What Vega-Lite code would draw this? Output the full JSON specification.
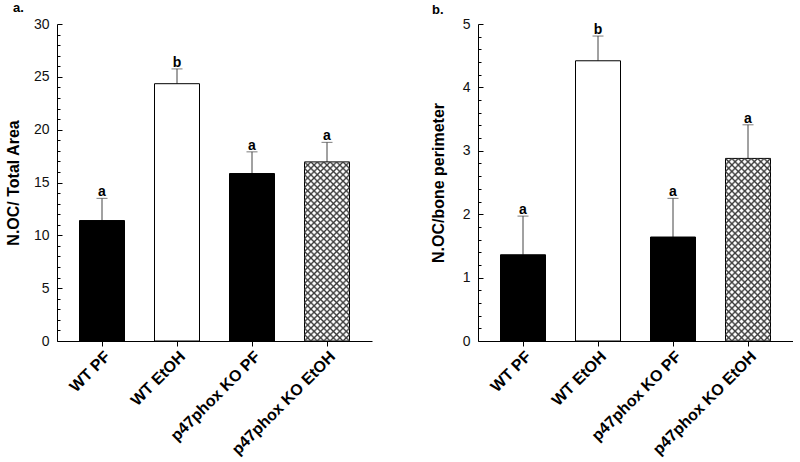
{
  "$schema": "https://vega.github.io/schema/vega-lite/v6.json",
  "padding": {"left": 5, "top": 2, "right": 0, "bottom": 0},
  "background": "white",
  "spacing": 58,
  "config": {
    "view": {"stroke": null},
    "font": "Liberation Sans",
    "axis": {"domainColor": "#000", "tickColor": "#000", "labelColor": "#111", "titleColor": "#000", "labelFont": "Liberation Sans", "titleFont": "Liberation Sans", "grid": false},
    "axisY": {"labelOverlap": false, "labelFontSize": 14, "titleFontSize": 16, "titleFontWeight": "bold", "labelPadding": 13, "tickSize": -5},
    "axisX": {"labelAngle": -45, "labelFontSize": 16, "labelFontWeight": "bold", "labelColor": "#000", "tickSize": 5, "labelPadding": 2},
    "title": {"font": "Liberation Sans", "fontSize": 13, "fontWeight": "bold", "color": "#000"}
  },
  "datasets": {
    "a": [
      {"group": "WT PF", "mean": 11.4, "err": 13.5, "letter": "a"},
      {"group": "WT EtOH", "mean": 24.35, "err": 25.75, "letter": "b"},
      {"group": "p47phox KO PF", "mean": 15.85, "err": 17.9, "letter": "a"},
      {"group": "p47phox KO EtOH", "mean": 16.95, "err": 18.8, "letter": "a"}
    ],
    "b": [
      {"group": "WT PF", "mean": 1.36, "err": 1.97, "letter": "a"},
      {"group": "WT EtOH", "mean": 4.42, "err": 4.81, "letter": "b"},
      {"group": "p47phox KO PF", "mean": 1.64, "err": 2.25, "letter": "a"},
      {"group": "p47phox KO EtOH", "mean": 2.88, "err": 3.41, "letter": "a"}
    ]
  },
  "hconcat": [
    {
      "data": {"name": "a"},
      "width": 315,
      "height": 317,
      "title": {"text": "a.", "anchor": "start", "frame": "group", "dx": -44, "offset": 2},
      "encoding": {
        "x": {"field": "group", "type": "nominal", "sort": null, "title": null,
          "scale": {"paddingInner": 0.4, "paddingOuter": 0.3}}
      },
      "resolve": {"scale": {"y": "independent"}, "axis": {"y": "independent"}},
      "layer": [
        {"mark": {"type": "rule", "opacity": 0},
         "encoding": {"y": {"field": "mean", "type": "quantitative",
           "scale": {"domain": [0, 30], "nice": false, "zero": true},
           "axis": {"orient": "left", "values": [1,2,3,4,6,7,8,9,11,12,13,14,16,17,18,19,21,22,23,24,26,27,28,29], "labels": false, "domain": false, "tickSize": -3, "title": null, "minExtent": 0, "maxExtent": 0}}}},
        {"layer": [
        {"mark": {"type": "rule", "color": "#444", "strokeWidth": 1},
         "encoding": {
           "y": {"field": "mean", "type": "quantitative", "title": "N.OC/ Total Area",
             "scale": {"domain": [0, 30], "nice": false, "zero": true},
             "axis": {"orient": "left", "values": [0, 5, 10, 15, 20, 25, 30], "titlePadding": 12}},
           "y2": {"field": "err"}}},
        {"mark": {"type": "tick", "color": "#444", "size": 11, "thickness": 1},
         "encoding": {"y": {"field": "err", "type": "quantitative", "title": "N.OC/ Total Area"}}},
        {"mark": {"type": "bar", "stroke": "#000", "strokeWidth": 1},
         "encoding": {
           "y": {"field": "mean", "type": "quantitative", "title": "N.OC/ Total Area"},
           "fill": {"field": "group", "type": "nominal", "legend": null,
             "scale": {"domain": ["WT PF", "WT EtOH", "p47phox KO PF", "p47phox KO EtOH"], "range": ["#000000", "#ffffff", "#000000", "#ffffff"]}}}},
        {"transform": [{"filter": "datum.group === 'p47phox KO EtOH'"}],
         "mark": {"type": "bar", "strokeWidth": 0, "fill": {"gradient": "linear", "x1": 0, "y1": 0, "x2": 0.294, "y2": 1.176, "stops": [
{"offset":0,"color":"#3a3a3a"},{"offset":0.00857,"color":"rgba(58,58,58,0)"},{"offset":0.02,"color":"rgba(58,58,58,0)"},
{"offset":0.02857,"color":"#3a3a3a"},{"offset":0.03714,"color":"rgba(58,58,58,0)"},{"offset":0.04857,"color":"rgba(58,58,58,0)"},
{"offset":0.05714,"color":"#3a3a3a"},{"offset":0.06571,"color":"rgba(58,58,58,0)"},{"offset":0.07714,"color":"rgba(58,58,58,0)"},
{"offset":0.08571,"color":"#3a3a3a"},{"offset":0.09429,"color":"rgba(58,58,58,0)"},{"offset":0.10571,"color":"rgba(58,58,58,0)"},
{"offset":0.11429,"color":"#3a3a3a"},{"offset":0.12286,"color":"rgba(58,58,58,0)"},{"offset":0.13429,"color":"rgba(58,58,58,0)"},
{"offset":0.14286,"color":"#3a3a3a"},{"offset":0.15143,"color":"rgba(58,58,58,0)"},{"offset":0.16286,"color":"rgba(58,58,58,0)"},
{"offset":0.17143,"color":"#3a3a3a"},{"offset":0.18,"color":"rgba(58,58,58,0)"},{"offset":0.19143,"color":"rgba(58,58,58,0)"},
{"offset":0.2,"color":"#3a3a3a"},{"offset":0.20857,"color":"rgba(58,58,58,0)"},{"offset":0.22,"color":"rgba(58,58,58,0)"},
{"offset":0.22857,"color":"#3a3a3a"},{"offset":0.23714,"color":"rgba(58,58,58,0)"},{"offset":0.24857,"color":"rgba(58,58,58,0)"},
{"offset":0.25714,"color":"#3a3a3a"},{"offset":0.26571,"color":"rgba(58,58,58,0)"},{"offset":0.27714,"color":"rgba(58,58,58,0)"},
{"offset":0.28571,"color":"#3a3a3a"},{"offset":0.29429,"color":"rgba(58,58,58,0)"},{"offset":0.30571,"color":"rgba(58,58,58,0)"},
{"offset":0.31429,"color":"#3a3a3a"},{"offset":0.32286,"color":"rgba(58,58,58,0)"},{"offset":0.33429,"color":"rgba(58,58,58,0)"},
{"offset":0.34286,"color":"#3a3a3a"},{"offset":0.35143,"color":"rgba(58,58,58,0)"},{"offset":0.36286,"color":"rgba(58,58,58,0)"},
{"offset":0.37143,"color":"#3a3a3a"},{"offset":0.38,"color":"rgba(58,58,58,0)"},{"offset":0.39143,"color":"rgba(58,58,58,0)"},
{"offset":0.4,"color":"#3a3a3a"},{"offset":0.40857,"color":"rgba(58,58,58,0)"},{"offset":0.42,"color":"rgba(58,58,58,0)"},
{"offset":0.42857,"color":"#3a3a3a"},{"offset":0.43714,"color":"rgba(58,58,58,0)"},{"offset":0.44857,"color":"rgba(58,58,58,0)"},
{"offset":0.45714,"color":"#3a3a3a"},{"offset":0.46571,"color":"rgba(58,58,58,0)"},{"offset":0.47714,"color":"rgba(58,58,58,0)"},
{"offset":0.48571,"color":"#3a3a3a"},{"offset":0.49429,"color":"rgba(58,58,58,0)"},{"offset":0.50571,"color":"rgba(58,58,58,0)"},
{"offset":0.51429,"color":"#3a3a3a"},{"offset":0.52286,"color":"rgba(58,58,58,0)"},{"offset":0.53429,"color":"rgba(58,58,58,0)"},
{"offset":0.54286,"color":"#3a3a3a"},{"offset":0.55143,"color":"rgba(58,58,58,0)"},{"offset":0.56286,"color":"rgba(58,58,58,0)"},
{"offset":0.57143,"color":"#3a3a3a"},{"offset":0.58,"color":"rgba(58,58,58,0)"},{"offset":0.59143,"color":"rgba(58,58,58,0)"},
{"offset":0.6,"color":"#3a3a3a"},{"offset":0.60857,"color":"rgba(58,58,58,0)"},{"offset":0.62,"color":"rgba(58,58,58,0)"},
{"offset":0.62857,"color":"#3a3a3a"},{"offset":0.63714,"color":"rgba(58,58,58,0)"},{"offset":0.64857,"color":"rgba(58,58,58,0)"},
{"offset":0.65714,"color":"#3a3a3a"},{"offset":0.66571,"color":"rgba(58,58,58,0)"},{"offset":0.67714,"color":"rgba(58,58,58,0)"},
{"offset":0.68571,"color":"#3a3a3a"},{"offset":0.69429,"color":"rgba(58,58,58,0)"},{"offset":0.70571,"color":"rgba(58,58,58,0)"},
{"offset":0.71429,"color":"#3a3a3a"},{"offset":0.72286,"color":"rgba(58,58,58,0)"},{"offset":0.73429,"color":"rgba(58,58,58,0)"},
{"offset":0.74286,"color":"#3a3a3a"},{"offset":0.75143,"color":"rgba(58,58,58,0)"},{"offset":0.76286,"color":"rgba(58,58,58,0)"},
{"offset":0.77143,"color":"#3a3a3a"},{"offset":0.78,"color":"rgba(58,58,58,0)"},{"offset":0.79143,"color":"rgba(58,58,58,0)"},
{"offset":0.8,"color":"#3a3a3a"},{"offset":0.80857,"color":"rgba(58,58,58,0)"},{"offset":0.82,"color":"rgba(58,58,58,0)"},
{"offset":0.82857,"color":"#3a3a3a"},{"offset":0.83714,"color":"rgba(58,58,58,0)"},{"offset":0.84857,"color":"rgba(58,58,58,0)"},
{"offset":0.85714,"color":"#3a3a3a"},{"offset":0.86571,"color":"rgba(58,58,58,0)"},{"offset":0.87714,"color":"rgba(58,58,58,0)"},
{"offset":0.88571,"color":"#3a3a3a"},{"offset":0.89429,"color":"rgba(58,58,58,0)"},{"offset":0.90571,"color":"rgba(58,58,58,0)"},
{"offset":0.91429,"color":"#3a3a3a"},{"offset":0.92286,"color":"rgba(58,58,58,0)"},{"offset":0.93429,"color":"rgba(58,58,58,0)"},
{"offset":0.94286,"color":"#3a3a3a"},{"offset":0.95143,"color":"rgba(58,58,58,0)"},{"offset":0.96286,"color":"rgba(58,58,58,0)"},
{"offset":0.97143,"color":"#3a3a3a"},{"offset":0.98,"color":"rgba(58,58,58,0)"},{"offset":0.99143,"color":"rgba(58,58,58,0)"},
{"offset":1,"color":"#3a3a3a"}]}},
         "encoding": {"y": {"field": "mean", "type": "quantitative", "title": "N.OC/ Total Area"}}},
        {"transform": [{"filter": "datum.group === 'p47phox KO EtOH'"}],
         "mark": {"type": "bar", "strokeWidth": 0, "fill": {"gradient": "linear", "x1": 0, "y1": 1, "x2": 0.294, "y2": -0.176, "stops": [
{"offset":0,"color":"#3a3a3a"},{"offset":0.00857,"color":"rgba(58,58,58,0)"},{"offset":0.02,"color":"rgba(58,58,58,0)"},
{"offset":0.02857,"color":"#3a3a3a"},{"offset":0.03714,"color":"rgba(58,58,58,0)"},{"offset":0.04857,"color":"rgba(58,58,58,0)"},
{"offset":0.05714,"color":"#3a3a3a"},{"offset":0.06571,"color":"rgba(58,58,58,0)"},{"offset":0.07714,"color":"rgba(58,58,58,0)"},
{"offset":0.08571,"color":"#3a3a3a"},{"offset":0.09429,"color":"rgba(58,58,58,0)"},{"offset":0.10571,"color":"rgba(58,58,58,0)"},
{"offset":0.11429,"color":"#3a3a3a"},{"offset":0.12286,"color":"rgba(58,58,58,0)"},{"offset":0.13429,"color":"rgba(58,58,58,0)"},
{"offset":0.14286,"color":"#3a3a3a"},{"offset":0.15143,"color":"rgba(58,58,58,0)"},{"offset":0.16286,"color":"rgba(58,58,58,0)"},
{"offset":0.17143,"color":"#3a3a3a"},{"offset":0.18,"color":"rgba(58,58,58,0)"},{"offset":0.19143,"color":"rgba(58,58,58,0)"},
{"offset":0.2,"color":"#3a3a3a"},{"offset":0.20857,"color":"rgba(58,58,58,0)"},{"offset":0.22,"color":"rgba(58,58,58,0)"},
{"offset":0.22857,"color":"#3a3a3a"},{"offset":0.23714,"color":"rgba(58,58,58,0)"},{"offset":0.24857,"color":"rgba(58,58,58,0)"},
{"offset":0.25714,"color":"#3a3a3a"},{"offset":0.26571,"color":"rgba(58,58,58,0)"},{"offset":0.27714,"color":"rgba(58,58,58,0)"},
{"offset":0.28571,"color":"#3a3a3a"},{"offset":0.29429,"color":"rgba(58,58,58,0)"},{"offset":0.30571,"color":"rgba(58,58,58,0)"},
{"offset":0.31429,"color":"#3a3a3a"},{"offset":0.32286,"color":"rgba(58,58,58,0)"},{"offset":0.33429,"color":"rgba(58,58,58,0)"},
{"offset":0.34286,"color":"#3a3a3a"},{"offset":0.35143,"color":"rgba(58,58,58,0)"},{"offset":0.36286,"color":"rgba(58,58,58,0)"},
{"offset":0.37143,"color":"#3a3a3a"},{"offset":0.38,"color":"rgba(58,58,58,0)"},{"offset":0.39143,"color":"rgba(58,58,58,0)"},
{"offset":0.4,"color":"#3a3a3a"},{"offset":0.40857,"color":"rgba(58,58,58,0)"},{"offset":0.42,"color":"rgba(58,58,58,0)"},
{"offset":0.42857,"color":"#3a3a3a"},{"offset":0.43714,"color":"rgba(58,58,58,0)"},{"offset":0.44857,"color":"rgba(58,58,58,0)"},
{"offset":0.45714,"color":"#3a3a3a"},{"offset":0.46571,"color":"rgba(58,58,58,0)"},{"offset":0.47714,"color":"rgba(58,58,58,0)"},
{"offset":0.48571,"color":"#3a3a3a"},{"offset":0.49429,"color":"rgba(58,58,58,0)"},{"offset":0.50571,"color":"rgba(58,58,58,0)"},
{"offset":0.51429,"color":"#3a3a3a"},{"offset":0.52286,"color":"rgba(58,58,58,0)"},{"offset":0.53429,"color":"rgba(58,58,58,0)"},
{"offset":0.54286,"color":"#3a3a3a"},{"offset":0.55143,"color":"rgba(58,58,58,0)"},{"offset":0.56286,"color":"rgba(58,58,58,0)"},
{"offset":0.57143,"color":"#3a3a3a"},{"offset":0.58,"color":"rgba(58,58,58,0)"},{"offset":0.59143,"color":"rgba(58,58,58,0)"},
{"offset":0.6,"color":"#3a3a3a"},{"offset":0.60857,"color":"rgba(58,58,58,0)"},{"offset":0.62,"color":"rgba(58,58,58,0)"},
{"offset":0.62857,"color":"#3a3a3a"},{"offset":0.63714,"color":"rgba(58,58,58,0)"},{"offset":0.64857,"color":"rgba(58,58,58,0)"},
{"offset":0.65714,"color":"#3a3a3a"},{"offset":0.66571,"color":"rgba(58,58,58,0)"},{"offset":0.67714,"color":"rgba(58,58,58,0)"},
{"offset":0.68571,"color":"#3a3a3a"},{"offset":0.69429,"color":"rgba(58,58,58,0)"},{"offset":0.70571,"color":"rgba(58,58,58,0)"},
{"offset":0.71429,"color":"#3a3a3a"},{"offset":0.72286,"color":"rgba(58,58,58,0)"},{"offset":0.73429,"color":"rgba(58,58,58,0)"},
{"offset":0.74286,"color":"#3a3a3a"},{"offset":0.75143,"color":"rgba(58,58,58,0)"},{"offset":0.76286,"color":"rgba(58,58,58,0)"},
{"offset":0.77143,"color":"#3a3a3a"},{"offset":0.78,"color":"rgba(58,58,58,0)"},{"offset":0.79143,"color":"rgba(58,58,58,0)"},
{"offset":0.8,"color":"#3a3a3a"},{"offset":0.80857,"color":"rgba(58,58,58,0)"},{"offset":0.82,"color":"rgba(58,58,58,0)"},
{"offset":0.82857,"color":"#3a3a3a"},{"offset":0.83714,"color":"rgba(58,58,58,0)"},{"offset":0.84857,"color":"rgba(58,58,58,0)"},
{"offset":0.85714,"color":"#3a3a3a"},{"offset":0.86571,"color":"rgba(58,58,58,0)"},{"offset":0.87714,"color":"rgba(58,58,58,0)"},
{"offset":0.88571,"color":"#3a3a3a"},{"offset":0.89429,"color":"rgba(58,58,58,0)"},{"offset":0.90571,"color":"rgba(58,58,58,0)"},
{"offset":0.91429,"color":"#3a3a3a"},{"offset":0.92286,"color":"rgba(58,58,58,0)"},{"offset":0.93429,"color":"rgba(58,58,58,0)"},
{"offset":0.94286,"color":"#3a3a3a"},{"offset":0.95143,"color":"rgba(58,58,58,0)"},{"offset":0.96286,"color":"rgba(58,58,58,0)"},
{"offset":0.97143,"color":"#3a3a3a"},{"offset":0.98,"color":"rgba(58,58,58,0)"},{"offset":0.99143,"color":"rgba(58,58,58,0)"},
{"offset":1,"color":"#3a3a3a"}]}},
         "encoding": {"y": {"field": "mean", "type": "quantitative", "title": "N.OC/ Total Area"}}},
        {"mark": {"type": "text", "fontSize": 14, "fontWeight": "bold", "baseline": "alphabetic", "dy": -2, "color": "#000"},
         "encoding": {"y": {"field": "err", "type": "quantitative", "title": "N.OC/ Total Area"}, "text": {"field": "letter"}}}
        ]}
      ]
    },
    {
      "data": {"name": "b"},
      "width": 315,
      "height": 317,
      "title": {"text": "b.", "anchor": "start", "frame": "group", "dx": -46, "offset": 2, "dy": 2},
      "encoding": {
        "x": {"field": "group", "type": "nominal", "sort": null, "title": null,
          "scale": {"paddingInner": 0.4, "paddingOuter": 0.3}}
      },
      "resolve": {"scale": {"y": "independent"}, "axis": {"y": "independent"}},
      "layer": [
        {"mark": {"type": "rule", "opacity": 0},
         "encoding": {"y": {"field": "mean", "type": "quantitative",
           "scale": {"domain": [0, 5], "nice": false, "zero": true},
           "axis": {"orient": "left", "values": [0.2,0.4,0.6,0.8,1.2,1.4,1.6,1.8,2.2,2.4,2.6,2.8,3.2,3.4,3.6,3.8,4.2,4.4,4.6,4.8], "labels": false, "domain": false, "tickSize": -3, "title": null, "minExtent": 0, "maxExtent": 0}}}},
        {"layer": [
        {"mark": {"type": "rule", "color": "#444", "strokeWidth": 1},
         "encoding": {
           "y": {"field": "mean", "type": "quantitative", "title": "N.OC/bone perimeter",
             "scale": {"domain": [0, 5], "nice": false, "zero": true},
             "axis": {"orient": "left", "values": [0, 1, 2, 3, 4, 5], "format": "d", "titlePadding": 16}},
           "y2": {"field": "err"}}},
        {"mark": {"type": "tick", "color": "#444", "size": 11, "thickness": 1},
         "encoding": {"y": {"field": "err", "type": "quantitative", "title": "N.OC/bone perimeter"}}},
        {"mark": {"type": "bar", "stroke": "#000", "strokeWidth": 1},
         "encoding": {
           "y": {"field": "mean", "type": "quantitative", "title": "N.OC/bone perimeter"},
           "fill": {"field": "group", "type": "nominal", "legend": null,
             "scale": {"domain": ["WT PF", "WT EtOH", "p47phox KO PF", "p47phox KO EtOH"], "range": ["#000000", "#ffffff", "#000000", "#ffffff"]}}}},
        {"transform": [{"filter": "datum.group === 'p47phox KO EtOH'"}],
         "mark": {"type": "bar", "strokeWidth": 0, "fill": {"gradient": "linear", "x1": 0, "y1": 0, "x2": 0.294, "y2": 1.176, "stops": [
{"offset":0,"color":"#3a3a3a"},{"offset":0.00857,"color":"rgba(58,58,58,0)"},{"offset":0.02,"color":"rgba(58,58,58,0)"},
{"offset":0.02857,"color":"#3a3a3a"},{"offset":0.03714,"color":"rgba(58,58,58,0)"},{"offset":0.04857,"color":"rgba(58,58,58,0)"},
{"offset":0.05714,"color":"#3a3a3a"},{"offset":0.06571,"color":"rgba(58,58,58,0)"},{"offset":0.07714,"color":"rgba(58,58,58,0)"},
{"offset":0.08571,"color":"#3a3a3a"},{"offset":0.09429,"color":"rgba(58,58,58,0)"},{"offset":0.10571,"color":"rgba(58,58,58,0)"},
{"offset":0.11429,"color":"#3a3a3a"},{"offset":0.12286,"color":"rgba(58,58,58,0)"},{"offset":0.13429,"color":"rgba(58,58,58,0)"},
{"offset":0.14286,"color":"#3a3a3a"},{"offset":0.15143,"color":"rgba(58,58,58,0)"},{"offset":0.16286,"color":"rgba(58,58,58,0)"},
{"offset":0.17143,"color":"#3a3a3a"},{"offset":0.18,"color":"rgba(58,58,58,0)"},{"offset":0.19143,"color":"rgba(58,58,58,0)"},
{"offset":0.2,"color":"#3a3a3a"},{"offset":0.20857,"color":"rgba(58,58,58,0)"},{"offset":0.22,"color":"rgba(58,58,58,0)"},
{"offset":0.22857,"color":"#3a3a3a"},{"offset":0.23714,"color":"rgba(58,58,58,0)"},{"offset":0.24857,"color":"rgba(58,58,58,0)"},
{"offset":0.25714,"color":"#3a3a3a"},{"offset":0.26571,"color":"rgba(58,58,58,0)"},{"offset":0.27714,"color":"rgba(58,58,58,0)"},
{"offset":0.28571,"color":"#3a3a3a"},{"offset":0.29429,"color":"rgba(58,58,58,0)"},{"offset":0.30571,"color":"rgba(58,58,58,0)"},
{"offset":0.31429,"color":"#3a3a3a"},{"offset":0.32286,"color":"rgba(58,58,58,0)"},{"offset":0.33429,"color":"rgba(58,58,58,0)"},
{"offset":0.34286,"color":"#3a3a3a"},{"offset":0.35143,"color":"rgba(58,58,58,0)"},{"offset":0.36286,"color":"rgba(58,58,58,0)"},
{"offset":0.37143,"color":"#3a3a3a"},{"offset":0.38,"color":"rgba(58,58,58,0)"},{"offset":0.39143,"color":"rgba(58,58,58,0)"},
{"offset":0.4,"color":"#3a3a3a"},{"offset":0.40857,"color":"rgba(58,58,58,0)"},{"offset":0.42,"color":"rgba(58,58,58,0)"},
{"offset":0.42857,"color":"#3a3a3a"},{"offset":0.43714,"color":"rgba(58,58,58,0)"},{"offset":0.44857,"color":"rgba(58,58,58,0)"},
{"offset":0.45714,"color":"#3a3a3a"},{"offset":0.46571,"color":"rgba(58,58,58,0)"},{"offset":0.47714,"color":"rgba(58,58,58,0)"},
{"offset":0.48571,"color":"#3a3a3a"},{"offset":0.49429,"color":"rgba(58,58,58,0)"},{"offset":0.50571,"color":"rgba(58,58,58,0)"},
{"offset":0.51429,"color":"#3a3a3a"},{"offset":0.52286,"color":"rgba(58,58,58,0)"},{"offset":0.53429,"color":"rgba(58,58,58,0)"},
{"offset":0.54286,"color":"#3a3a3a"},{"offset":0.55143,"color":"rgba(58,58,58,0)"},{"offset":0.56286,"color":"rgba(58,58,58,0)"},
{"offset":0.57143,"color":"#3a3a3a"},{"offset":0.58,"color":"rgba(58,58,58,0)"},{"offset":0.59143,"color":"rgba(58,58,58,0)"},
{"offset":0.6,"color":"#3a3a3a"},{"offset":0.60857,"color":"rgba(58,58,58,0)"},{"offset":0.62,"color":"rgba(58,58,58,0)"},
{"offset":0.62857,"color":"#3a3a3a"},{"offset":0.63714,"color":"rgba(58,58,58,0)"},{"offset":0.64857,"color":"rgba(58,58,58,0)"},
{"offset":0.65714,"color":"#3a3a3a"},{"offset":0.66571,"color":"rgba(58,58,58,0)"},{"offset":0.67714,"color":"rgba(58,58,58,0)"},
{"offset":0.68571,"color":"#3a3a3a"},{"offset":0.69429,"color":"rgba(58,58,58,0)"},{"offset":0.70571,"color":"rgba(58,58,58,0)"},
{"offset":0.71429,"color":"#3a3a3a"},{"offset":0.72286,"color":"rgba(58,58,58,0)"},{"offset":0.73429,"color":"rgba(58,58,58,0)"},
{"offset":0.74286,"color":"#3a3a3a"},{"offset":0.75143,"color":"rgba(58,58,58,0)"},{"offset":0.76286,"color":"rgba(58,58,58,0)"},
{"offset":0.77143,"color":"#3a3a3a"},{"offset":0.78,"color":"rgba(58,58,58,0)"},{"offset":0.79143,"color":"rgba(58,58,58,0)"},
{"offset":0.8,"color":"#3a3a3a"},{"offset":0.80857,"color":"rgba(58,58,58,0)"},{"offset":0.82,"color":"rgba(58,58,58,0)"},
{"offset":0.82857,"color":"#3a3a3a"},{"offset":0.83714,"color":"rgba(58,58,58,0)"},{"offset":0.84857,"color":"rgba(58,58,58,0)"},
{"offset":0.85714,"color":"#3a3a3a"},{"offset":0.86571,"color":"rgba(58,58,58,0)"},{"offset":0.87714,"color":"rgba(58,58,58,0)"},
{"offset":0.88571,"color":"#3a3a3a"},{"offset":0.89429,"color":"rgba(58,58,58,0)"},{"offset":0.90571,"color":"rgba(58,58,58,0)"},
{"offset":0.91429,"color":"#3a3a3a"},{"offset":0.92286,"color":"rgba(58,58,58,0)"},{"offset":0.93429,"color":"rgba(58,58,58,0)"},
{"offset":0.94286,"color":"#3a3a3a"},{"offset":0.95143,"color":"rgba(58,58,58,0)"},{"offset":0.96286,"color":"rgba(58,58,58,0)"},
{"offset":0.97143,"color":"#3a3a3a"},{"offset":0.98,"color":"rgba(58,58,58,0)"},{"offset":0.99143,"color":"rgba(58,58,58,0)"},
{"offset":1,"color":"#3a3a3a"}]}},
         "encoding": {"y": {"field": "mean", "type": "quantitative", "title": "N.OC/bone perimeter"}}},
        {"transform": [{"filter": "datum.group === 'p47phox KO EtOH'"}],
         "mark": {"type": "bar", "strokeWidth": 0, "fill": {"gradient": "linear", "x1": 0, "y1": 1, "x2": 0.294, "y2": -0.176, "stops": [
{"offset":0,"color":"#3a3a3a"},{"offset":0.00857,"color":"rgba(58,58,58,0)"},{"offset":0.02,"color":"rgba(58,58,58,0)"},
{"offset":0.02857,"color":"#3a3a3a"},{"offset":0.03714,"color":"rgba(58,58,58,0)"},{"offset":0.04857,"color":"rgba(58,58,58,0)"},
{"offset":0.05714,"color":"#3a3a3a"},{"offset":0.06571,"color":"rgba(58,58,58,0)"},{"offset":0.07714,"color":"rgba(58,58,58,0)"},
{"offset":0.08571,"color":"#3a3a3a"},{"offset":0.09429,"color":"rgba(58,58,58,0)"},{"offset":0.10571,"color":"rgba(58,58,58,0)"},
{"offset":0.11429,"color":"#3a3a3a"},{"offset":0.12286,"color":"rgba(58,58,58,0)"},{"offset":0.13429,"color":"rgba(58,58,58,0)"},
{"offset":0.14286,"color":"#3a3a3a"},{"offset":0.15143,"color":"rgba(58,58,58,0)"},{"offset":0.16286,"color":"rgba(58,58,58,0)"},
{"offset":0.17143,"color":"#3a3a3a"},{"offset":0.18,"color":"rgba(58,58,58,0)"},{"offset":0.19143,"color":"rgba(58,58,58,0)"},
{"offset":0.2,"color":"#3a3a3a"},{"offset":0.20857,"color":"rgba(58,58,58,0)"},{"offset":0.22,"color":"rgba(58,58,58,0)"},
{"offset":0.22857,"color":"#3a3a3a"},{"offset":0.23714,"color":"rgba(58,58,58,0)"},{"offset":0.24857,"color":"rgba(58,58,58,0)"},
{"offset":0.25714,"color":"#3a3a3a"},{"offset":0.26571,"color":"rgba(58,58,58,0)"},{"offset":0.27714,"color":"rgba(58,58,58,0)"},
{"offset":0.28571,"color":"#3a3a3a"},{"offset":0.29429,"color":"rgba(58,58,58,0)"},{"offset":0.30571,"color":"rgba(58,58,58,0)"},
{"offset":0.31429,"color":"#3a3a3a"},{"offset":0.32286,"color":"rgba(58,58,58,0)"},{"offset":0.33429,"color":"rgba(58,58,58,0)"},
{"offset":0.34286,"color":"#3a3a3a"},{"offset":0.35143,"color":"rgba(58,58,58,0)"},{"offset":0.36286,"color":"rgba(58,58,58,0)"},
{"offset":0.37143,"color":"#3a3a3a"},{"offset":0.38,"color":"rgba(58,58,58,0)"},{"offset":0.39143,"color":"rgba(58,58,58,0)"},
{"offset":0.4,"color":"#3a3a3a"},{"offset":0.40857,"color":"rgba(58,58,58,0)"},{"offset":0.42,"color":"rgba(58,58,58,0)"},
{"offset":0.42857,"color":"#3a3a3a"},{"offset":0.43714,"color":"rgba(58,58,58,0)"},{"offset":0.44857,"color":"rgba(58,58,58,0)"},
{"offset":0.45714,"color":"#3a3a3a"},{"offset":0.46571,"color":"rgba(58,58,58,0)"},{"offset":0.47714,"color":"rgba(58,58,58,0)"},
{"offset":0.48571,"color":"#3a3a3a"},{"offset":0.49429,"color":"rgba(58,58,58,0)"},{"offset":0.50571,"color":"rgba(58,58,58,0)"},
{"offset":0.51429,"color":"#3a3a3a"},{"offset":0.52286,"color":"rgba(58,58,58,0)"},{"offset":0.53429,"color":"rgba(58,58,58,0)"},
{"offset":0.54286,"color":"#3a3a3a"},{"offset":0.55143,"color":"rgba(58,58,58,0)"},{"offset":0.56286,"color":"rgba(58,58,58,0)"},
{"offset":0.57143,"color":"#3a3a3a"},{"offset":0.58,"color":"rgba(58,58,58,0)"},{"offset":0.59143,"color":"rgba(58,58,58,0)"},
{"offset":0.6,"color":"#3a3a3a"},{"offset":0.60857,"color":"rgba(58,58,58,0)"},{"offset":0.62,"color":"rgba(58,58,58,0)"},
{"offset":0.62857,"color":"#3a3a3a"},{"offset":0.63714,"color":"rgba(58,58,58,0)"},{"offset":0.64857,"color":"rgba(58,58,58,0)"},
{"offset":0.65714,"color":"#3a3a3a"},{"offset":0.66571,"color":"rgba(58,58,58,0)"},{"offset":0.67714,"color":"rgba(58,58,58,0)"},
{"offset":0.68571,"color":"#3a3a3a"},{"offset":0.69429,"color":"rgba(58,58,58,0)"},{"offset":0.70571,"color":"rgba(58,58,58,0)"},
{"offset":0.71429,"color":"#3a3a3a"},{"offset":0.72286,"color":"rgba(58,58,58,0)"},{"offset":0.73429,"color":"rgba(58,58,58,0)"},
{"offset":0.74286,"color":"#3a3a3a"},{"offset":0.75143,"color":"rgba(58,58,58,0)"},{"offset":0.76286,"color":"rgba(58,58,58,0)"},
{"offset":0.77143,"color":"#3a3a3a"},{"offset":0.78,"color":"rgba(58,58,58,0)"},{"offset":0.79143,"color":"rgba(58,58,58,0)"},
{"offset":0.8,"color":"#3a3a3a"},{"offset":0.80857,"color":"rgba(58,58,58,0)"},{"offset":0.82,"color":"rgba(58,58,58,0)"},
{"offset":0.82857,"color":"#3a3a3a"},{"offset":0.83714,"color":"rgba(58,58,58,0)"},{"offset":0.84857,"color":"rgba(58,58,58,0)"},
{"offset":0.85714,"color":"#3a3a3a"},{"offset":0.86571,"color":"rgba(58,58,58,0)"},{"offset":0.87714,"color":"rgba(58,58,58,0)"},
{"offset":0.88571,"color":"#3a3a3a"},{"offset":0.89429,"color":"rgba(58,58,58,0)"},{"offset":0.90571,"color":"rgba(58,58,58,0)"},
{"offset":0.91429,"color":"#3a3a3a"},{"offset":0.92286,"color":"rgba(58,58,58,0)"},{"offset":0.93429,"color":"rgba(58,58,58,0)"},
{"offset":0.94286,"color":"#3a3a3a"},{"offset":0.95143,"color":"rgba(58,58,58,0)"},{"offset":0.96286,"color":"rgba(58,58,58,0)"},
{"offset":0.97143,"color":"#3a3a3a"},{"offset":0.98,"color":"rgba(58,58,58,0)"},{"offset":0.99143,"color":"rgba(58,58,58,0)"},
{"offset":1,"color":"#3a3a3a"}]}},
         "encoding": {"y": {"field": "mean", "type": "quantitative", "title": "N.OC/bone perimeter"}}},
        {"mark": {"type": "text", "fontSize": 14, "fontWeight": "bold", "baseline": "alphabetic", "dy": -2, "color": "#000"},
         "encoding": {"y": {"field": "err", "type": "quantitative", "title": "N.OC/bone perimeter"}, "text": {"field": "letter"}}}
        ]}
      ]
    }
  ]
}
